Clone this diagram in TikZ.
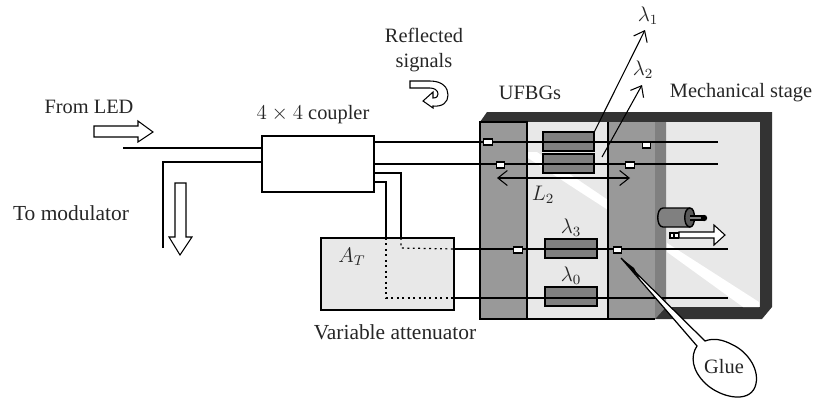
\documentclass[tikz,border=0pt]{standalone}
\usepackage{amsmath,amssymb}
\usepackage{xcolor}
\usepackage{fontspec}
\setmainfont{Liberation Serif}
\usepackage{tikz}
\usetikzlibrary{arrows.meta,positioning}

\definecolor{blockgray}{HTML}{999999}
\definecolor{gratgray}{HTML}{808080}
\definecolor{paleg}{HTML}{E8E8E8}
\definecolor{framegray}{HTML}{333333}

\begin{document}
\begin{tikzpicture}[
    x=0.02cm, y=-0.02cm,
    lab/.style={font=\fontsize{11.6}{14}\selectfont, text=black!85, inner sep=0pt, align=center},
    widelab/.style={lab, font=\fontsize{12.2}{14}\selectfont},
    box/.style={draw, line width=0.7pt, outer sep=0pt, inner sep=0pt},
    grat/.style={draw, line width=1.1pt, fill=gratgray, outer sep=0pt, inner sep=0pt,
      minimum width=1.03cm, minimum height=0.38cm},
    splice/.style={draw, line width=0.6pt, fill=white, inner sep=0pt, outer sep=0pt,
      minimum width=0.17cm, minimum height=0.12cm},
    fibre/.style={line width=0.6pt},
    dots/.style={line width=0.7pt, dash pattern=on 1.1pt off 2pt},
    arr/.style={-{Straight Barb[length=1.9mm,width=3mm]}, line width=0.6pt},
    blockarr/.style={draw, line width=0.6pt, fill=white, line join=miter},
  ]
    \useasboundingbox (0,0) rectangle (814,400);

    % Mechanical stage
    \fill[framegray] (480,122) -- (487,112) -- (772,112) -- (772,307) -- (762,319) -- (655,319) -- cycle;
    \fill[paleg] (666,122) rectangle (760,307);
    \fill[gratgray] (655,122) -- (666,122) -- (666,307) -- (655,319) -- cycle;
    \fill[white] (667,243) -- (759,302) -- (759,307) -- (743,307) -- (667,252) -- cycle;

    % Glass plate and glue blocks
    \fill[paleg] (527,122) rectangle (608,319);
    \fill[white] (528,152) -- (537,152) -- (608,200) -- (608,210) -- (577,190) -- (528,158) -- cycle;
    \draw[fill=blockgray, line width=0.6pt] (480,122) rectangle (527,319);
    \fill[blockgray] (608,122) rectangle (655,319);
    \draw[line width=0.6pt] (527,319) -- (655,319);
    \draw[line width=0.6pt] (608,319) -- (608,122);

    % Coupler, attenuator and gratings
    \node[box, minimum width=2.24cm, minimum height=1.12cm] (coupler) at (318,164) {};
    \node[box, fill=paleg, minimum width=2.66cm, minimum height=1.44cm] (atten) at (387.5,274) {};
    \node[grat] (g1) at (568.5,141.5) {};
    \node[grat] (g2) at (568.5,163.5) {};
    \node[grat] (g3) at (571,248.5) {};
    \node[grat] (g0) at (571,296.5) {};

    % Fibres
    \coordinate (in1) at (123,148);
    \coordinate (in2) at (163,248);
    \coordinate (f1) at (718,142);
    \coordinate (f2) at (718,164);
    \coordinate (f3) at (728,249);
    \coordinate (f0) at (728,298);
    \draw[fibre] (in1) -- (coupler.west |- in1);
    \draw[fibre] (in2) -- (163,162) -- (coupler.west |- 0,162);
    \draw[fibre] (coupler.east |- f1) -- (f1);
    \draw[fibre] (coupler.east |- f2) -- (f2);
    \draw[fibre] (coupler.east |- 0,173) -- (401,173) -- (401,238);
    \draw[fibre] (coupler.east |- 0,182) -- (386,182) -- (386,238);
    \draw[dots] (401,238) -- (401,248) -- (atten.east |- f3);
    \draw[dots] (386,238) -- (386,298) -- (atten.east |- f0);
    \draw[fibre] (atten.east |- f3) -- (f3);
    \draw[fibre] (atten.east |- f0) -- (f0);

    % Splices
    \node[splice] (s1) at (488,142) {};
    \node[splice] (s2) at (646.5,145) {};
    \node[splice] (s3) at (500.5,165) {};
    \node[splice] (s4) at (630,165) {};
    \node[splice] (s5) at (518,250) {};
    \node[splice] (s6) at (617.5,250) {};

    % Reflected wavelengths
    \coordinate (tip1) at (645,30);
    \coordinate (tip2) at (642,85);
    \coordinate (tail2) at (602,157);
    \coordinate (span1) at (497,178);
    \coordinate (span2) at (630,178);
    \draw[arr] (g1.north east) -- (tip1);
    \draw[arr] (tail2) -- (tip2);
    \draw[arr, {Straight Barb[length=1.9mm,width=3mm]}-{Straight Barb[length=1.9mm,width=3mm]}] (span1) -- (span2);

    % Block arrows
    \draw[blockarr] (94,126) -- (138,126) -- (138,121) -- (153,132) -- (138,142) -- (138,137) -- (94,137) -- cycle;
    \draw[blockarr] (175,183) -- (186,183) -- (186,237) -- (192,237) -- (180,255) -- (169,237) -- (175,237) -- cycle;
    \draw[blockarr] (410,81) -- (430,81) .. controls (443,81) and (448,88) .. (448,95)
      .. controls (448,102) and (443,107) .. (433,106) -- (433,108) -- (423,101) -- (433,92) -- (433,98)
      .. controls (437,98) and (438,96) .. (438,94) .. controls (438,90) and (434,88) .. (430,88)
      -- (410,88) -- cycle;
    \draw[blockarr] (679,232) -- (714,232) -- (714,225) -- (725,235) -- (714,245) -- (714,238) -- (679,238) -- cycle;
    \draw[line width=0.6pt, fill=white] (670,233) rectangle (673.5,238);
    \draw[line width=0.6pt, fill=white] (674.5,233) rectangle (678.5,238);

    % Motor
    \draw[line width=0.8pt, fill=gratgray] (690,208) -- (663,208) .. controls (656,208) and (656,227) .. (663,227) -- (690,227);
    \draw[line width=0.8pt, fill=black!65] (690,208) .. controls (683,208) and (683,227) .. (690,227)
      .. controls (696,227) and (696,208) .. (690,208);
    \draw[line width=3pt] (690,218) -- (704,218);
    \draw[line width=1.6pt, gratgray] (690,218) -- (702,218);
    \fill (704,218) circle (3.2);

    % Glue balloon
    \draw[line width=0.7pt, fill=white] (621,258) -- (697,346) .. controls (690,356) and (692,371) .. (706,384)
      .. controls (720,397) and (748,404) .. (755,387) .. controls (761,371) and (748,352) .. (733,345)
      .. controls (722,339) and (713,338) .. (705,341) -- cycle;
    \fill (621,258) -- (640,279) -- (634,268) -- cycle;

    % Labels
    \node[lab] (fromled) at (89,107) {From LED};
    \node[widelab] (tomod) at (71,213) {To modulator};
    \node[lab] (couplab) at (313,115) {$4\times4$ coupler};
    \node[lab] (refl) at (424,50) {Reflected\\signals};
    \node[lab] (ufbg) at (530,93) {UFBGs};
    \node[lab] (stage) at (741,93) {Mechanical stage};
    \node[widelab] (attlab) at (395,332) {Variable attenuator};
    \node[lab] (at) at (352,257) {$A_T$};
    \node[lab] (l1) at (648,16) {$\lambda_1$};
    \node[lab] (l2) at (643,70) {$\lambda_2$};
    \node[lab] (l3) at (571,228) {$\lambda_3$};
    \node[lab] (l0) at (571,276) {$\lambda_0$};
    \node[lab] (span) at (543,195) {$L_2$};
    \node[lab] (glue) at (724,367) {Glue};
  \end{tikzpicture}
\end{document}
